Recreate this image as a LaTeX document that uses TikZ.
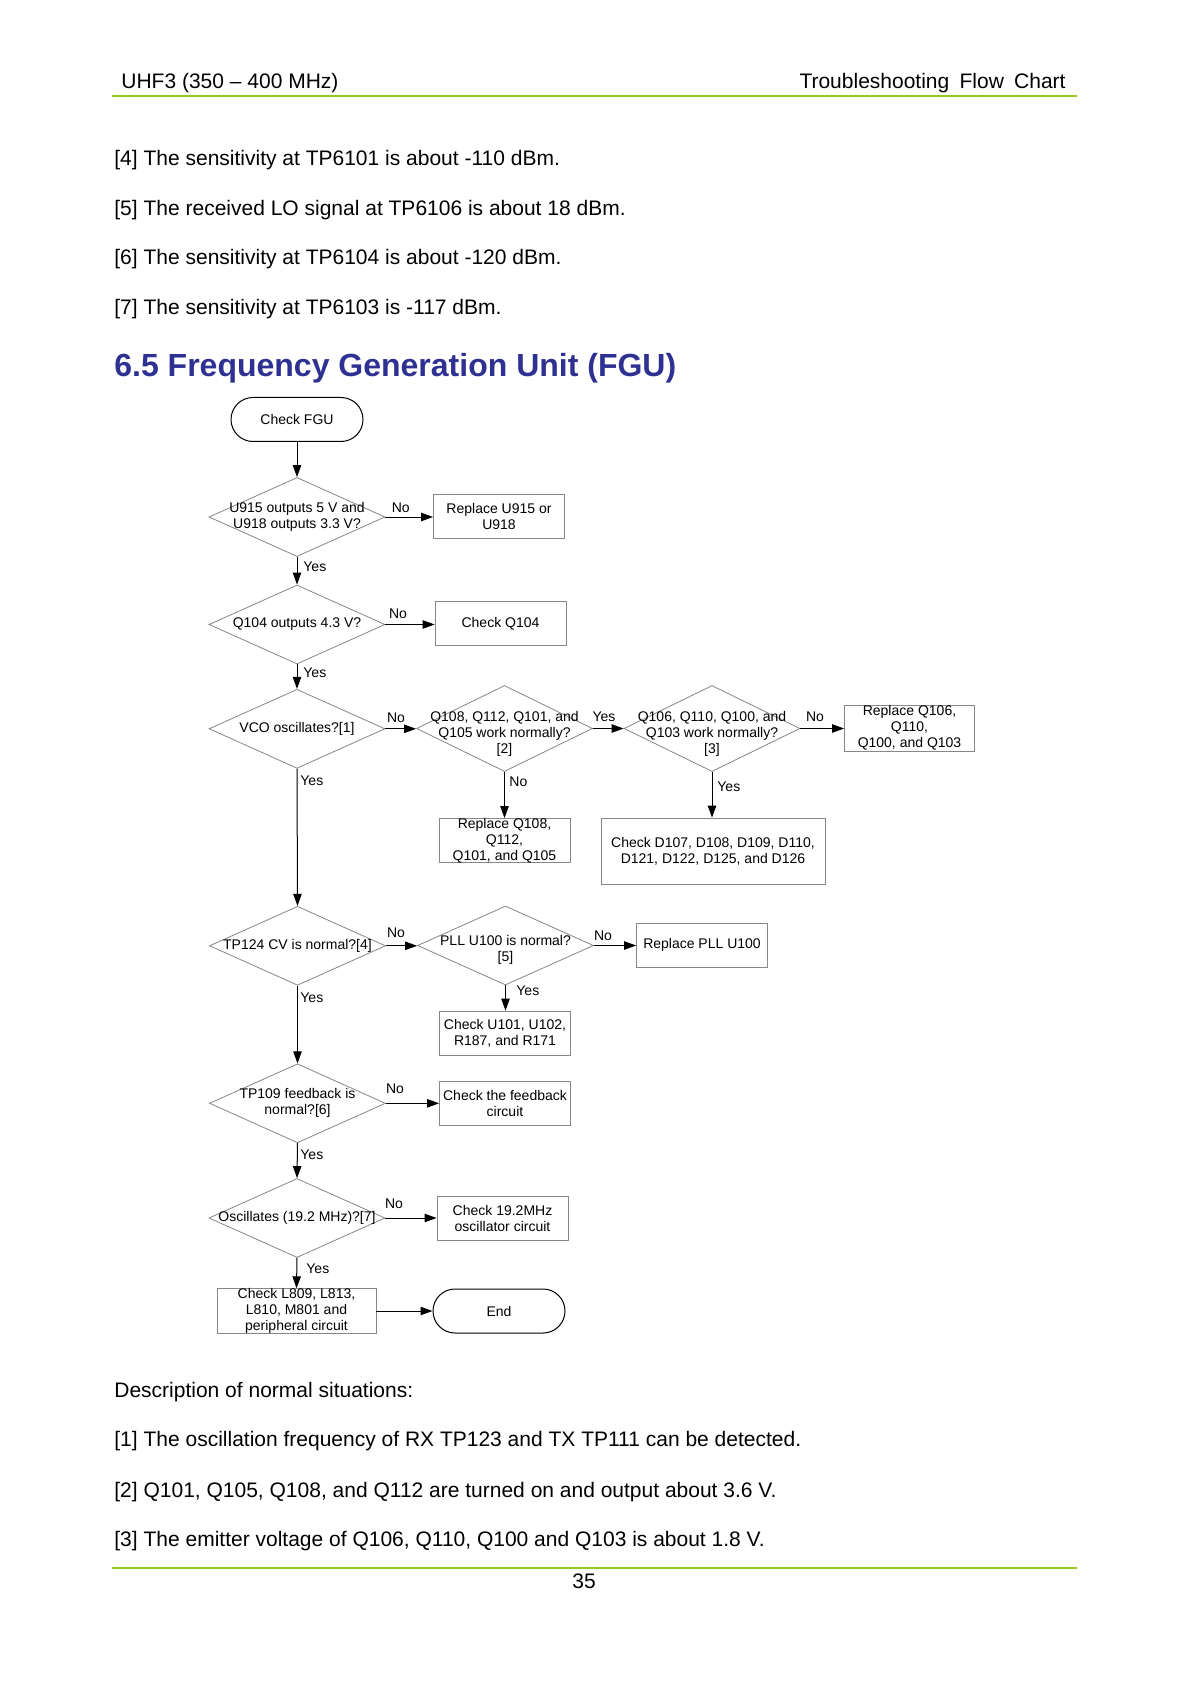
\documentclass[tikz,border=0pt]{standalone}
\usepackage{fontspec}
\setmainfont{Liberation Sans}
\usetikzlibrary{shapes.geometric,shapes.misc,arrows.meta}
\definecolor{hdrgreen}{RGB}{150,200,30}
\definecolor{headblue}{RGB}{46,49,146}
\definecolor{boxgray}{RGB}{135,135,135}
\begin{document}
\begin{tikzpicture}[x=0.5pt,y=-0.5pt,
  fc/.style={font=\fontsize{7}{8}\selectfont},
  dec/.style={diamond, draw=boxgray, line width=0.4pt, inner sep=0pt, minimum width=88pt, minimum height=39.5pt},
  dtxt/.style={fc, align=center, inner sep=0pt},
  pbox/.style={rectangle, draw=boxgray, line width=0.4pt, fc, align=center, inner sep=0pt, minimum width=65.5pt, minimum height=22pt},
  term/.style={rounded rectangle, draw=black, line width=0.5pt, fc, inner sep=0pt, minimum width=66pt, minimum height=22pt},
  arr/.style={draw=black, line width=0.5pt, -{Triangle[length=6pt,width=4.2pt]}},
  lbl/.style={fc, inner sep=0pt},
  body/.style={font=\fontsize{10.5}{12}\selectfont, anchor=base west, inner sep=0pt},
  rule/.style={draw=hdrgreen, line width=1pt}]
\useasboundingbox[fill=white] (0,0) rectangle (1191,1684);

% header and footer
\node[body] (hl) at (121,89) {UHF3 (350 – 400 MHz)};
\node[body, anchor=base east] (hr) at (1066,89) {Troubleshooting\hspace{0.49em}Flow\hspace{0.49em}Chart};
\coordinate (tl1) at (112,96.5);
\coordinate (tl2) at (1077,96.5);
\draw[rule] (tl1) -- (tl2);
\coordinate (bl1) at (112,1568);
\coordinate (bl2) at (1077,1568);
\draw[rule] (bl1) -- (bl2);
\node[body, anchor=base] (pg) at (584,1588) {35};

% body text
\node[body] (t4) at (114,166) {[4] The sensitivity at TP6101 is about -110 dBm.};
\node[body] (t5) at (114,215.5) {[5] The received LO signal at TP6106 is about 18 dBm.};
\node[body] (t6) at (114,265) {[6] The sensitivity at TP6104 is about -120 dBm.};
\node[body] (t7) at (114,315) {[7] The sensitivity at TP6103 is -117 dBm.};
\node[body, font=\fontsize{16}{19}\selectfont\bfseries, text=headblue] (head) at (114,377) {6.5 Frequency Generation Unit (FGU)};

\node[body] (d0) at (114,1397) {Description of normal situations:};
\node[body] (d1t) at (114,1446.5) {[1] The oscillation frequency of RX TP123 and TX TP111 can be detected.};
\node[body] (d2t) at (114,1497) {[2] Q101, Q105, Q108, and Q112 are turned on and output about 3.6 V.};
\node[body] (d3t) at (114,1546.5) {[3] The emitter voltage of Q106, Q110, Q100 and Q103 is about 1.8 V.};

% flowchart nodes
\node[term] (fgu) at (297,419.5) {Check FGU};

\node[dec] (u915) at (297,517) {};
\node[dtxt] (u915t) at (297,517) {U915 outputs 5 V and\\U918 outputs 3.3 V?};
\node[pbox] (ru915) at (499,516.5) {Replace U915 or\\U918};

\node[dec] (q104) at (297,624.5) {};
\node[dtxt] (q104t) at (297,624.5) {Q104 outputs 4.3 V?};
\node[pbox] (cq104) at (500.5,623.5) {Check Q104};

\node[dec] (vco) at (297,728.8) {};
\node[dtxt] (vcot) at (297,728.8) {VCO oscillates?[1]};

\node[dec, minimum height=43pt] (q108) at (504.5,728.5) {};
\node[dtxt] (q108t) at (504.5,733.5) {Q108, Q112, Q101, and\\Q105 work normally?\\{[2]}};
\node[dec, minimum height=43pt] (q106) at (712,728.5) {};
\node[dtxt] (q106t) at (712,733.5) {Q106, Q110, Q100, and\\Q103 work normally?\\{[3]}};
\node[pbox, minimum width=65pt, minimum height=23pt] (rq106) at (909.5,728) {};
\node[dtxt] (rq106t) at (909.5,728) {Replace Q106,\\Q110,\\Q100, and Q103};
\node[pbox] (rq108) at (504.5,840.5) {};
\node[dtxt] (rq108t) at (504.5,840.5) {Replace Q108,\\Q112,\\Q101, and Q105};
\node[pbox, minimum width=112pt, minimum height=33pt] (cd107) at (713,851) {Check D107, D108, D109, D110,\\D121, D122, D125, and D126};

\node[dec] (tp124) at (297.5,945.8) {};
\node[dtxt] (tp124t) at (297.5,945.8) {TP124 CV is normal?[4]};
\node[dec, minimum width=88pt] (pll) at (505.5,945.5) {};
\node[dtxt] (pllt) at (505.5,949.5) {PLL U100 is normal?\\{[5]}};
\node[pbox] (rpll) at (702,945.3) {Replace PLL U100};
\node[pbox] (cu101) at (505,1033) {Check U101, U102,\\R187, and R171};

\node[dec] (tp109) at (297.5,1103.3) {};
\node[dtxt] (tp109t) at (297.5,1103.3) {TP109 feedback is\\normal?[6]};
\node[pbox] (cfb) at (505,1103.2) {Check the feedback\\circuit};

\node[dec] (osc) at (297,1218) {};
\node[dtxt] (osct) at (297,1218) {Oscillates (19.2 MHz)?[7]};
\node[pbox] (c192) at (502.5,1218) {Check 19.2MHz\\oscillator circuit};

\node[pbox, minimum width=79.5pt, minimum height=22.3pt] (l809) at (296.5,1311) {};
\node[dtxt] (l809t) at (296.5,1311) {Check L809, L813,\\L810, M801 and\\peripheral circuit};
\node[term] (endn) at (499,1311) {End};

% connectors
\draw[arr] (fgu.south) -- (u915.north);
\draw[arr] (u915.east) -- (u915.east -| ru915.west);
\draw[arr] (u915.south) -- (q104.north);
\draw[arr] (q104.east) -- (q104.east -| cq104.west);
\draw[arr] (q104.south) -- (vco.north);
\draw[arr] (vco.east) -- (vco.east -| q108.west);
\draw[arr] (q108.east) -- (q108.east -| q106.west);
\draw[arr] (q106.east) -- (q106.east -| rq106.west);
\draw[arr] (q108.south) -- (q108.south |- rq108.north);
\draw[arr] (q106.south) -- (q106.south |- cd107.north);
\draw[arr] (vco.south) -- (tp124.north);
\draw[arr] (tp124.east) -- (tp124.east -| pll.west);
\draw[arr] (pll.east) -- (pll.east -| rpll.west);
\draw[arr] (pll.south) -- (pll.south |- cu101.north);
\draw[arr] (tp124.south) -- (tp109.north);
\draw[arr] (tp109.east) -- (tp109.east -| cfb.west);
\draw[arr] (tp109.south) -- (osc.north);
\draw[arr] (osc.east) -- (osc.east -| c192.west);
\draw[arr] (osc.south) -- (l809.north);
\draw[arr] (l809.east) -- (l809.east -| endn.west);

% labels
\node[lbl] (n1) at (400.7,508) {No};
\node[lbl, anchor=west] (y1) at (303,566.5) {Yes};
\node[lbl] (n2) at (398,614) {No};
\node[lbl, anchor=west] (y2) at (303,673) {Yes};
\node[lbl] (n3) at (396,718) {No};
\node[lbl, anchor=west] (y3) at (300,781) {Yes};
\node[lbl] (y4) at (604,717) {Yes};
\node[lbl] (n4) at (815,717) {No};
\node[lbl, anchor=west] (n5) at (509,782) {No};
\node[lbl, anchor=west] (y5) at (717,787) {Yes};
\node[lbl] (n6) at (396,933) {No};
\node[lbl] (n7) at (603,936) {No};
\node[lbl, anchor=west] (y6) at (516,990.5) {Yes};
\node[lbl, anchor=west] (y7) at (300,998) {Yes};
\node[lbl] (n8) at (395,1089) {No};
\node[lbl, anchor=west] (y8) at (300,1155) {Yes};
\node[lbl] (n9) at (394,1204) {No};
\node[lbl, anchor=west] (y9) at (306,1269) {Yes};
\end{tikzpicture}
\end{document}
